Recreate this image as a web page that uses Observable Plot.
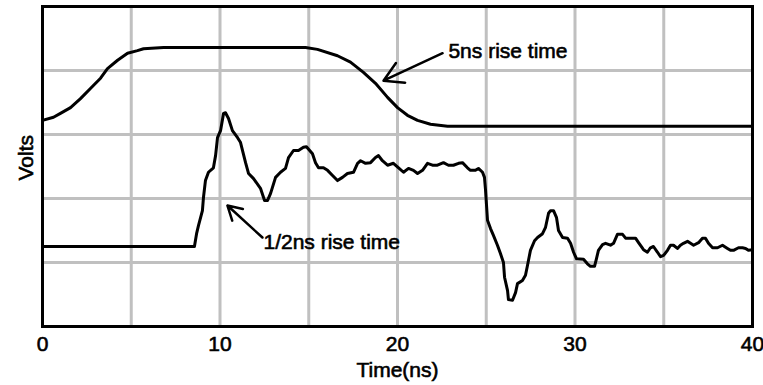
<!DOCTYPE html>
<html>
<head>
<meta charset="utf-8">
<script src="https://cdn.jsdelivr.net/npm/d3@7"></script>
<script src="https://cdn.jsdelivr.net/npm/@observablehq/plot@0.6"></script>
<style>
  html, body { margin: 0; padding: 0; background: #fff; }
  #chart svg { display: block; }
  #chart svg text { stroke: black; stroke-width: 0.6px; }
</style>
</head>
<body>
<div id="chart"></div>
<script>
// Slow (5 ns) edge: time in ns, level in volts (arbitrary units)
const slowTime  = [0, 0.62, 1.01, 1.58, 2.14, 2.70, 3.27, 3.66, 4.23, 4.79, 5.35, 5.69, 6.82, 14.82, 15.49, 16.62, 17.35, 18.08, 18.76, 19.44, 20.00, 20.56, 21.13, 21.86, 22.82, 40];
const slowVolts = [3.22, 3.27, 3.33, 3.42, 3.56, 3.72, 3.88, 4.03, 4.16, 4.27, 4.31, 4.34, 4.36, 4.36, 4.33, 4.23, 4.13, 3.97, 3.80, 3.58, 3.42, 3.30, 3.22, 3.16, 3.13, 3.13];

// Fast (1/2 ns) edge with ringing
const fastTime = [0, 8.56, 8.68, 8.79, 9.01, 9.07, 9.18, 9.35, 9.63, 9.75, 9.86, 10.03, 10.20, 10.31, 10.48, 10.70, 10.99, 11.15, 11.44, 11.61, 11.89, 12.28, 12.51, 12.68, 12.85, 13.13, 13.41, 13.69, 13.86, 14.14, 14.42, 14.70, 14.87, 15.21, 15.38, 15.55, 15.83, 16.06, 16.34, 16.62, 16.90, 17.18, 17.52, 17.75, 17.92, 18.20, 18.48, 18.76, 18.93, 19.15, 19.44, 19.77, 20.06, 20.34, 20.62, 20.90, 21.13, 21.41, 21.69, 21.97, 22.25, 22.59, 22.87, 23.15, 23.44, 23.66, 23.94, 24.11, 24.39, 24.56, 24.79, 24.90, 24.96, 25.07, 25.24, 25.41, 25.63, 25.80, 25.97, 26.03, 26.20, 26.25, 26.48, 26.65, 26.76, 27.04, 27.21, 27.32, 27.49, 27.72, 27.89, 28.17, 28.34, 28.51, 28.62, 28.79, 28.96, 29.07, 29.30, 29.58, 29.75, 29.92, 30.08, 30.48, 30.70, 30.87, 31.10, 31.21, 31.32, 31.55, 31.72, 32.00, 32.17, 32.39, 32.68, 32.85, 33.13, 33.41, 33.58, 33.86, 34.08, 34.25, 34.42, 34.65, 34.82, 34.99, 35.21, 35.38, 35.55, 35.77, 35.94, 36.11, 36.34, 36.51, 36.68, 36.96, 37.18, 37.35, 37.52, 37.75, 38.03, 38.31, 38.59, 38.76, 38.93, 39.21, 39.44, 39.61, 39.77, 40];
const fastVolts = [1.25, 1.25, 1.45, 1.58, 1.81, 2.02, 2.28, 2.41, 2.48, 2.67, 2.95, 3.06, 3.33, 3.34, 3.25, 3.06, 2.95, 2.88, 2.56, 2.39, 2.31, 2.16, 1.97, 1.97, 2.08, 2.33, 2.41, 2.47, 2.64, 2.75, 2.75, 2.80, 2.81, 2.70, 2.56, 2.48, 2.48, 2.44, 2.36, 2.28, 2.33, 2.39, 2.41, 2.55, 2.59, 2.55, 2.56, 2.64, 2.67, 2.59, 2.52, 2.55, 2.48, 2.41, 2.47, 2.44, 2.39, 2.44, 2.55, 2.52, 2.52, 2.56, 2.52, 2.52, 2.55, 2.56, 2.48, 2.44, 2.44, 2.47, 2.41, 2.33, 2.13, 1.66, 1.53, 1.42, 1.27, 1.14, 1.00, 0.77, 0.56, 0.42, 0.41, 0.53, 0.67, 0.72, 0.80, 0.95, 1.19, 1.34, 1.39, 1.45, 1.55, 1.77, 1.81, 1.81, 1.70, 1.50, 1.39, 1.38, 1.30, 1.16, 1.06, 1.05, 0.98, 0.94, 0.94, 1.06, 1.19, 1.28, 1.30, 1.27, 1.30, 1.44, 1.44, 1.38, 1.38, 1.38, 1.31, 1.20, 1.16, 1.23, 1.25, 1.16, 1.09, 1.11, 1.19, 1.27, 1.27, 1.22, 1.27, 1.30, 1.33, 1.30, 1.27, 1.31, 1.38, 1.38, 1.30, 1.23, 1.23, 1.27, 1.22, 1.19, 1.19, 1.23, 1.23, 1.22, 1.19, 1.20];

// Axis ticks and grid
const xTickLabels = [0, 10, 20, 30, 40];
const xGrid = [5, 10, 15, 20, 25, 30, 35];
const yGrid = [1, 2, 3, 4];

// Callouts: label text, arrow tail/tip and label anchor in data units
const calloutText  = ["5ns rise time", "1/2ns rise time"];
const calloutTail  = [[22.54, 4.27], [12.39, 1.39]];
const calloutTip   = [[19.21, 3.84], [10.42, 1.89]];
const calloutLabel = [[22.87, 4.30], [12.45, 1.31]];

const slow = slowTime.map((t, i) => ({t, v: slowVolts[i]}));
const fast = fastTime.map((t, i) => ({t, v: fastVolts[i]}));
const callouts = calloutText.map((text, i) => ({
  text,
  x1: calloutTail[i][0], y1: calloutTail[i][1],
  x2: calloutTip[i][0],  y2: calloutTip[i][1],
  lx: calloutLabel[i][0], ly: calloutLabel[i][1]
}));

const font = "Liberation Sans, Arial, Helvetica, sans-serif";

const chart = Plot.plot({
  width: 763,
  height: 385,
  marginLeft: 42,
  marginRight: 11,
  marginTop: 6,
  marginBottom: 59,
  style: {fontFamily: font, fontSize: "21px", color: "black", background: "white"},
  x: {domain: [0, 40]},
  y: {domain: [0, 5]},
  marks: [
    Plot.ruleX(xGrid, {stroke: "#c0c0c0", strokeWidth: 3}),
    Plot.ruleY(yGrid, {stroke: "#c0c0c0", strokeWidth: 3}),
    Plot.line(slow, {x: "t", y: "v", stroke: "black", strokeWidth: 3}),
    Plot.line(fast, {x: "t", y: "v", stroke: "black", strokeWidth: 3}),
    Plot.arrow(callouts, {x1: "x1", y1: "y1", x2: "x2", y2: "y2", stroke: "black", strokeWidth: 2.5, headLength: 14}),
    Plot.text(callouts, {x: "lx", y: "ly", text: "text", textAnchor: "start", fontSize: 21, fill: "black"}),
    Plot.frame({stroke: "black", strokeWidth: 3}),
    Plot.axisX(xTickLabels, {tickSize: 0, tickPadding: 10, fontSize: 21, label: null}),
    Plot.axisY([], {label: null}),
    Plot.text(["Time(ns)"], {frameAnchor: "bottom", dy: 50, fontSize: 21, fill: "black"}),
    Plot.text(["Volts"], {frameAnchor: "left", dx: -16, dy: 14, rotate: -90, fontSize: 21, fill: "black"})
  ]
});

document.getElementById("chart").append(chart);
</script>
</body>
</html>
